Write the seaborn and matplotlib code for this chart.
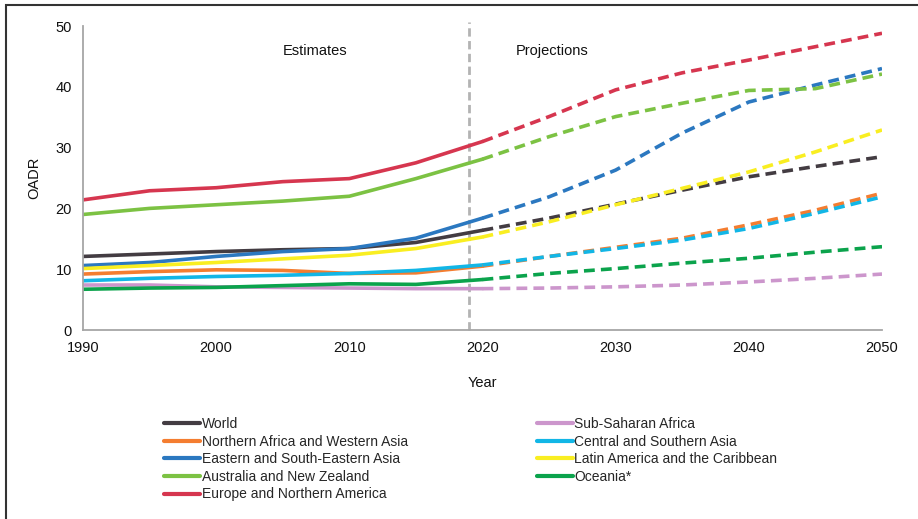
import matplotlib
matplotlib.use("Agg")
import matplotlib.pyplot as plt
from matplotlib.lines import Line2D
from matplotlib.patches import Rectangle
import seaborn as sns
import pandas as pd

years = [1990, 1995, 2000, 2005, 2010, 2015, 2020, 2025, 2030, 2035, 2040, 2045, 2050]
split_year = 2020
estimate_line_year = 2019

regions = [
    "World",
    "Northern Africa and Western Asia",
    "Eastern and South-Eastern Asia",
    "Australia and New Zealand",
    "Europe and Northern America",
    "Sub-Saharan Africa",
    "Central and Southern Asia",
    "Latin America and the Caribbean",
    "Oceania*",
]

world = [12.1, 12.5, 12.9, 13.2, 13.4, 14.4, 16.4, 18.4, 20.7, 23.0, 25.2, 26.9, 28.5]
n_africa_w_asia = [9.2, 9.6, 9.9, 9.8, 9.3, 9.4, 10.5, 12.1, 13.6, 15.1, 17.3, 19.7, 22.5]
e_se_asia = [10.6, 11.1, 12.1, 12.9, 13.4, 15.1, 18.4, 21.9, 26.3, 32.4, 37.5, 40.3, 43.0]
aus_nz = [19.0, 20.0, 20.6, 21.2, 22.0, 24.9, 28.1, 31.8, 35.1, 37.3, 39.4, 39.7, 42.1]
europe_n_america = [21.4, 22.9, 23.4, 24.4, 24.9, 27.5, 31.0, 35.1, 39.5, 42.3, 44.4, 46.6, 48.8]
sub_saharan = [7.4, 7.4, 7.1, 7.0, 6.9, 6.8, 6.8, 6.9, 7.1, 7.4, 7.9, 8.5, 9.2]
c_s_asia = [8.1, 8.5, 8.8, 9.0, 9.3, 9.8, 10.7, 12.1, 13.4, 14.8, 16.7, 19.2, 21.9]
latin_america = [10.1, 10.6, 11.1, 11.7, 12.3, 13.4, 15.3, 17.8, 20.6, 23.3, 26.0, 29.3, 32.9]
oceania = [6.7, 6.9, 7.0, 7.3, 7.6, 7.5, 8.3, 9.3, 10.1, 11.0, 11.8, 12.8, 13.7]

series = [world, n_africa_w_asia, e_se_asia, aus_nz, europe_n_america,
          sub_saharan, c_s_asia, latin_america, oceania]

colors = ["#433c42", "#f47d30", "#2b78c0", "#7cc243", "#d6364f",
          "#cc96cc", "#12b6e6", "#f9ee21", "#0ba34c"]

rows = []
for reg, vals in zip(regions, series):
    for y, v in zip(years, vals):
        rows.append({"Year": y, "OADR": v, "Region": reg})
df = pd.DataFrame(rows)

sns.set_style("white")
plt.rcParams["font.family"] = ["Liberation Sans", "DejaVu Sans"]

fig = plt.figure(figsize=(9.18, 5.19), dpi=100)
ax = fig.add_axes([83 / 918, 1 - 330 / 519, (882 - 83) / 918, (330 - 26) / 519])

palette = dict(zip(regions, colors))
est = df[df["Year"] <= split_year]
proj = df[df["Year"] >= split_year]
sns.lineplot(data=est, x="Year", y="OADR", hue="Region", palette=palette,
             linewidth=2.6, ax=ax, legend=False)
for reg in regions:
    sns.lineplot(data=proj[proj["Region"] == reg], x="Year", y="OADR",
                 color=palette[reg], linewidth=2.6, ax=ax, legend=False,
                 dashes=False, linestyle=(0, (3.0, 1.7)))

ax.axvline(estimate_line_year, ymin=0, ymax=1.013, color="#b3b3b3", lw=2,
           linestyle=(0, (3, 1.6)), clip_on=False, zorder=1)

ax.set_xlim(1990, 2050)
ax.set_ylim(0, 50)
ax.set_xticks(range(1990, 2051, 10))
ax.set_yticks(range(0, 51, 10))
for s in ["top", "right"]:
    ax.spines[s].set_visible(False)
for s in ["left", "bottom"]:
    ax.spines[s].set_color("#a6a6a6")
    ax.spines[s].set_linewidth(1.3)
ax.tick_params(axis="both", direction="out", length=5, width=1.2, color="#a6a6a6",
               labelsize=10.5, labelcolor="#111111", pad=3)
ax.set_xlabel("Year", fontsize=10.5, color="#111111", labelpad=15)
ax.set_ylabel("OADR", fontsize=10.5, color="#111111", labelpad=10)

ax.text(2007.4, 45.9, "Estimates", fontsize=10.5, ha="center", va="center", color="#111111")
ax.text(2025.2, 45.9, "Projections", fontsize=10.5, ha="center", va="center", color="#111111")

handles = [Line2D([0], [0], color=c, lw=3) for c in colors]
fig.legend(handles, regions, loc="upper left", bbox_to_anchor=(164 / 918, 1 - 417 / 519),
           ncol=2, frameon=False, fontsize=10, handlelength=2.6, handletextpad=0.1,
           columnspacing=9.3, labelspacing=0.26, borderpad=0, borderaxespad=0)

fig.patches.append(Rectangle((6 / 918, -0.05), 1.2, 1 - 5 / 519 + 0.05,
                             transform=fig.transFigure, fill=False,
                             edgecolor="#333333", linewidth=1.5))

fig.savefig("out.png", dpi=100)
